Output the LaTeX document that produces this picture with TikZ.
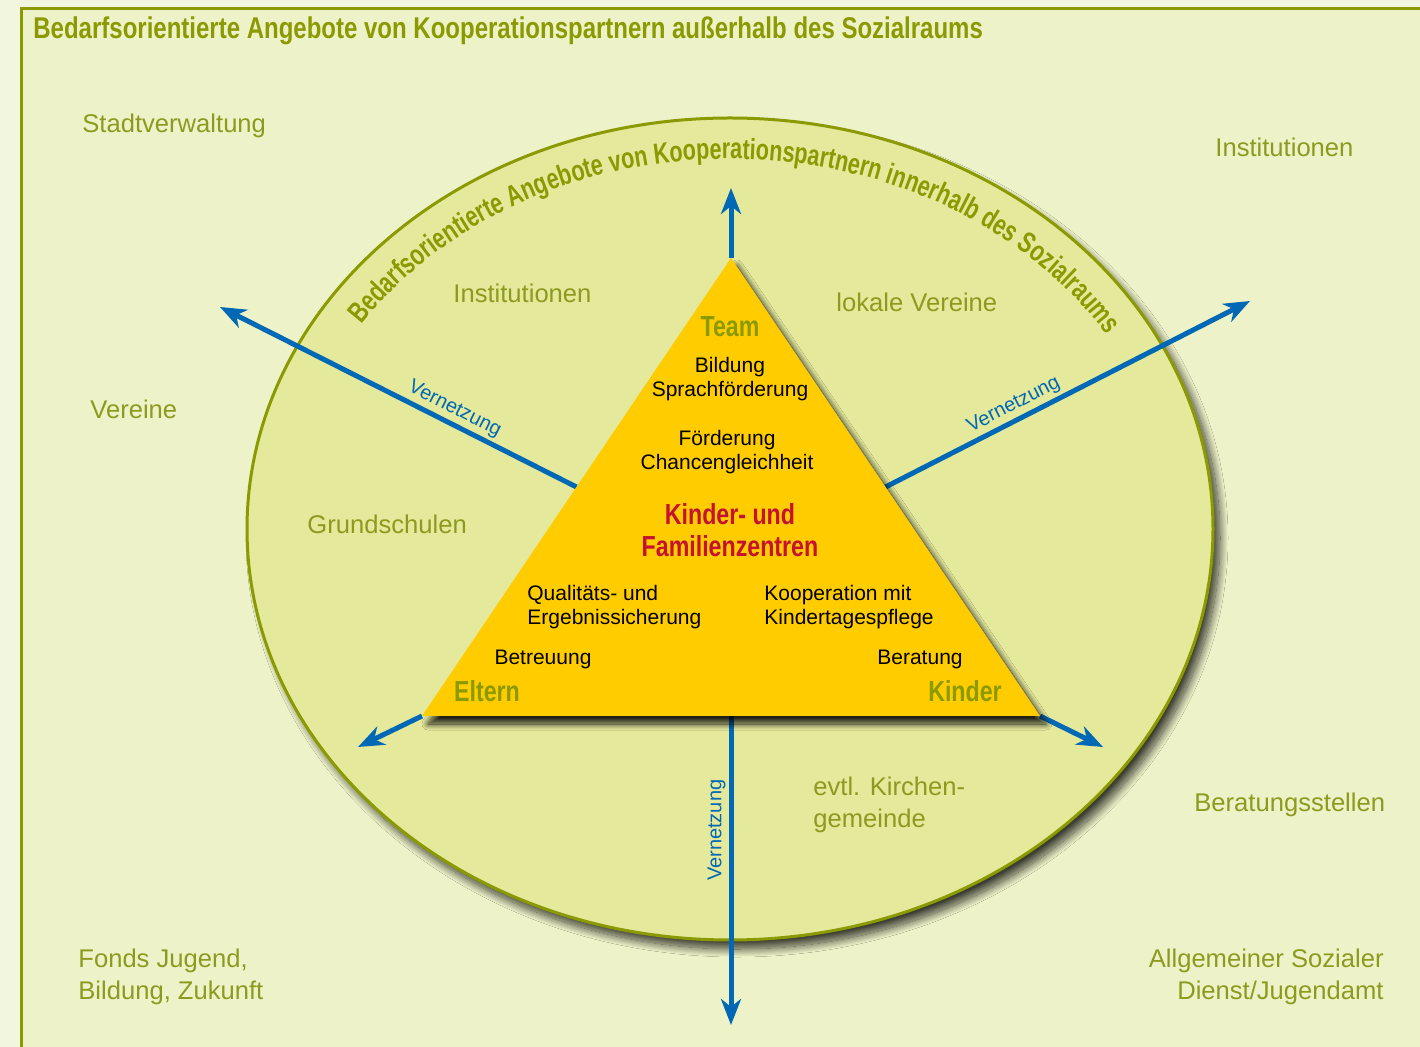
\documentclass[tikz,border=0pt]{standalone}
\usepackage{fontspec}
\setmainfont{Liberation Sans}
\newfontfamily\condfont{Liberation Sans}[FakeStretch=0.8]
\newfontfamily\arccondfont{Liberation Sans}[FakeStretch=0.74]
\usetikzlibrary{arrows.meta,calc,decorations.text,shadows.blur}
\definecolor{pagebg}{HTML}{F3F6DE}
\definecolor{boxbg}{HTML}{EEF2C8}
\definecolor{ringbg}{HTML}{E4E99C}
\definecolor{olivedark}{HTML}{8A9A00}
\definecolor{olivetext}{HTML}{8C9B1E}
\definecolor{trigold}{HTML}{FFCC00}
\definecolor{netblue}{HTML}{0068B4}
\definecolor{kfzred}{HTML}{C41230}
\newcommand{\arcfont}{\arccondfont\bfseries\fontsize{14.6}{17}\selectfont}
\tikzset{
  partner/.style={text=olivetext, inner sep=0pt, align=left,
    font=\fontsize{12.8}{16}\selectfont},
  corner/.style={text=olivedark, inner sep=0pt,
    font=\condfont\bfseries\fontsize{14.5}{16}\selectfont},
  task/.style={inner sep=0pt, align=center,
    font=\fontsize{10.5}{12}\selectfont},
  net/.style={draw=netblue, line width=2.5pt,
    -{Stealth[length=13pt,width=10pt,inset=4pt]}},
  netlabel/.style={text=netblue, inner sep=1.5pt,
    font=\fontsize{10}{12}\selectfont}
}
\begin{document}
\begin{tikzpicture}[x=0.5pt,y=-0.5pt]
  \useasboundingbox (0,0) rectangle (1420,1047);
  % background and frame
  \fill[pagebg] (0,0) rectangle (1420,1047);
  \filldraw[fill=boxbg, draw=olivedark, line width=1.5pt] (21,9) rectangle (1440,1070);
  \node[corner, anchor=west, font=\condfont\bfseries\fontsize{15}{17}\selectfont] (title) at (33,31)
    {Bedarfsorientierte Angebote von Kooperationspartnern außerhalb des Sozialraums};

  % social space
  \coordinate (centre) at (730,529);
  \filldraw[fill=ringbg, draw=olivedark, line width=1.5pt,
    blur shadow={shadow xshift=3.5pt, shadow yshift=-4.5pt, shadow blur radius=4pt, shadow opacity=75, shadow blur steps=20}]
    (centre) ellipse [x radius=241.5pt, y radius=205.5pt];
  \path[decorate, decoration={text along path, text align=center,
      text={|\color{olivedark}\arcfont|Bedarfsorientierte Angebote von Kooperationspartnern innerhalb des Sozialraums}}]
    ($(centre)+(172:221pt and 185pt)$) arc [start angle=172, end angle=6, x radius=221pt, y radius=185pt];

  % triangle corners and edge midpoints
  \coordinate (apex) at (731,258);
  \coordinate (baseL) at (422,716);
  \coordinate (baseR) at (1040,716);
  \coordinate (midL) at ($(apex)!0.5!(baseL)$);
  \coordinate (midR) at ($(apex)!0.5!(baseR)$);
  \coordinate (midB) at ($(baseL)!0.5!(baseR)$);
  \coordinate (endTop) at (731,188);
  \coordinate (endBL) at (358,747);
  \coordinate (endBR) at (1103,747);
  \coordinate (endL) at (220,307);
  \coordinate (endR) at (1250,301);
  \coordinate (endB) at (731,1025);

  \begin{scope}
    \draw[net] (midL) -- node[netlabel, sloped, above, pos=0.36] {Vernetzung} (endL);
    \draw[net] (midR) -- node[netlabel, sloped, above, pos=0.37] {Vernetzung} (endR);
    \draw[net] (midB) -- node[netlabel, rotate=90, anchor=south, pos=0.37] {Vernetzung} (endB);
    \draw[net] (apex) -- (endTop);
    \draw[net] (baseL) -- (endBL);
    \draw[net] (baseR) -- (endBR);
  \end{scope}

  \fill[trigold, blur shadow={shadow xshift=3pt, shadow yshift=-4pt, shadow blur radius=3pt, shadow opacity=85, shadow blur steps=16}]
    (apex) -- (baseR) -- (baseL) -- cycle;

  % inside the triangle
  \node[corner] (team) at (730,327) {Team};
  \node[corner] (eltern) at (487,691) {Eltern};
  \node[corner] (kinder) at (965,691) {Kinder};
  \node[task] (bildung) at (730,379) {Bildung\\Sprachförderung};
  \node[task] (foerderung) at (727,452) {Förderung\\Chancengleichheit};
  \node[corner, text=kfzred, align=center]
    (kfz) at (730,530) {Kinder- und\\Familienzentren};
  \node[task, align=left, anchor=west] (quali) at (527,607) {Qualitäts- und\\Ergebnissicherung};
  \node[task, align=left, anchor=west] (koop) at (764,607) {Kooperation mit\\Kindertagespflege};
  \node[task] (betreuung) at (543,659) {Betreuung};
  \node[task] (beratung) at (920,659) {Beratung};

  % partners inside the social space
  \node[partner, anchor=west] (instIn) at (453,293) {Institutionen};
  \node[partner, anchor=west] (lokal) at (836,302) {lokale Vereine};
  \node[partner, anchor=west] (grund) at (307,524) {Grundschulen};
  \node[partner, anchor=west] (kirche) at (813,805) {evtl. Kirchen-\\gemeinde};

  % partners outside the social space
  \node[partner, anchor=west] (stadt) at (82,126) {Stadtverwaltung};
  \node[partner, anchor=west] (instOut) at (1215,147) {Institutionen};
  \node[partner, anchor=west] (vereine) at (90,409) {Vereine};
  \node[partner, anchor=west] (berStellen) at (1194,805) {Beratungsstellen};
  \node[partner, anchor=west] (fonds) at (78,977) {Fonds Jugend,\\Bildung, Zukunft};
  \node[partner, anchor=east, align=right] (asd) at (1384,977) {Allgemeiner Sozialer\\Dienst/Jugendamt};
\end{tikzpicture}
\end{document}
